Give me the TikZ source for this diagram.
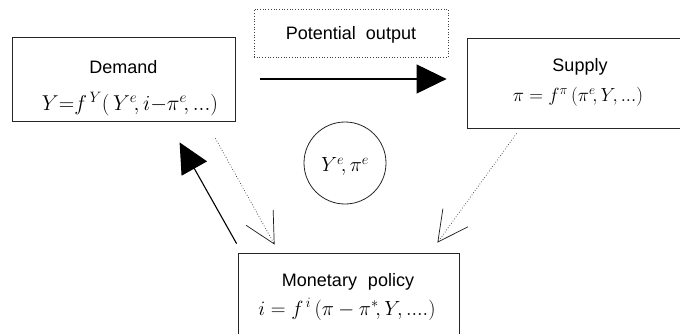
\RequirePackage{fix-cm}
\documentclass[tikz,border=0pt]{standalone}
\usepackage{fontspec}
\setmainfont{Liberation Sans}
\usetikzlibrary{arrows.meta}
\begin{document}
\begin{tikzpicture}[x=1pt,y=-1pt,
  box/.style={draw=black!85, line width=0.8pt, inner sep=0pt},
  dotbox/.style={draw=black!75, line width=0.7pt, dotted, inner sep=0pt},
  lbl/.style={anchor=base, inner sep=0pt, font=\fontsize{18}{20}\selectfont},
  mth/.style={anchor=base, inner sep=0pt, font=\fontsize{#1}{#1}\selectfont},
  bigarrow/.style={line width=1.1pt, -{Triangle[length=30pt,width=29pt]}},
  dotarrow/.style={draw=black!80, line width=0.7pt, dotted, -{Straight Barb[length=30pt,width=31pt,line width=0.7pt,color=black!90]}}]
\useasboundingbox (0,0) rectangle (680,333);
\clip (0,0) rectangle (680,333);
\fill[white] (0,0) rectangle (680,333);
% boxes
\node[box, minimum width=223pt, minimum height=84pt] (demand) at (123.5,79) {};
\node[box, minimum width=236pt, minimum height=90pt] (supply) at (585,83) {};
\node[box, minimum width=221pt, minimum height=90pt] (monetary) at (348.5,298) {};
\node[dotbox, minimum width=194pt, minimum height=48pt] (potential) at (351,33) {};
\node[draw=black!85, line width=0.8pt, circle, minimum size=82pt, inner sep=0pt] (expect) at (345,163) {};
% texts
\node[lbl] (demandT) at (123.5,73.3) {Demand};
\node[mth=21.5] (demandF) at (130,110) {$Y{=}f^{\,Y}(\,Y^e\!,i{-}\pi^e\!,...)$};
\node[lbl] (supplyT) at (580,71.7) {Supply};
\node[mth=19] (supplyF) at (578,101) {$\pi = f^{\pi}\,(\pi^e\!, Y,...)$};
\node[lbl] (monetaryT) at (348,286.7) {Monetary\hspace{11pt}policy};
\node[mth=20.5] (monetaryF) at (347,315) {$i = f^{\,i}\,(\pi - \pi^*\!, Y,....)$};
\node[lbl] (potentialT) at (351,39.3) {Potential\hspace{10pt}output};
\node[mth=20.5] (expectT) at (345,171.7) {$Y^e\!,\pi^e$};
% connectors
\draw[bigarrow] ([shift={(25,0)}]demand.east) -- ([shift={(-20,-4)}]supply.west);
\draw[bigarrow] ([shift={(-1,-9)}]monetary.north west) -- ([shift={(168,21)}]demand.south west);
\draw[dotarrow] ([shift={(-20,17)}]demand.south east) -- ([shift={(37,-8)}]monetary.north west);
\draw[dotarrow] ([shift={(50,5)}]supply.south west) -- ([shift={(-22,-10)}]monetary.north east);
\end{tikzpicture}
\end{document}
